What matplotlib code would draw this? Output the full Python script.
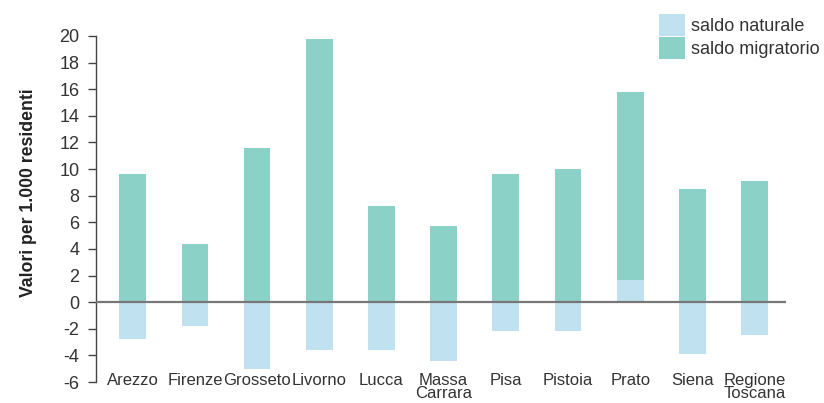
import matplotlib
matplotlib.use("Agg")
import matplotlib.pyplot as plt
import numpy as np

# -----------------------------
# Dati
# -----------------------------
provinces = ["Arezzo", "Firenze", "Grosseto", "Livorno", "Lucca", "Massa\nCarrara",
             "Pisa", "Pistoia", "Prato", "Siena", "Regione\nToscana"]
saldo_naturale = [-2.8, -1.8, -5.0, -3.6, -3.6, -4.4, -2.2, -2.2, 1.7, -3.9, -2.5]
saldo_migratorio = [9.6, 4.4, 11.6, 19.8, 7.2, 5.7, 9.6, 10.0, 14.1, 8.5, 9.1]
yticks = list(range(-6, 21, 2))

# -----------------------------
# Stile
# -----------------------------
plt.rcParams['font.family'] = ['Liberation Sans', 'DejaVu Sans']
col_nat = "#bfe1f0"
col_mig = "#8bd1c7"
txt_col = "#333333"

fig = plt.figure(figsize=(8.24, 4.03), dpi=100)
ax = fig.add_axes([0.1165, 0.052, 0.837, 0.8587])

x = np.arange(len(provinces))
nat = np.array(saldo_naturale)
mig = np.array(saldo_migratorio)
# la parte migratoria parte da 0, oppure sopra il saldo naturale se positivo
base_mig = np.where(nat > 0, nat, 0)

w = 0.43
ax.bar(x, nat, width=w, color=col_nat, label="saldo naturale", zorder=2)
ax.bar(x, mig, width=w, bottom=base_mig, color=col_mig, label="saldo migratorio", zorder=2)

ax.axhline(0, color="#777777", linewidth=1.6, zorder=3)

ax.set_xlim(-0.59, 10.5)
ax.set_ylim(-6, 20)
ax.set_yticks(yticks)
ax.set_yticklabels([str(t) for t in yticks], fontsize=13, color=txt_col)
ax.set_xticks(x)
ax.set_xticklabels(provinces, fontsize=12, color=txt_col, linespacing=0.82, va="top")
ax.tick_params(axis="x", length=0, pad=-6.5)
ax.tick_params(axis="y", length=6, width=1, color="#444444", pad=6, direction="out")

for s in ["top", "right", "bottom"]:
    ax.spines[s].set_visible(False)
ax.spines["left"].set_color("#444444")
ax.spines["left"].set_linewidth(1)

ax.set_ylabel("Valori per 1.000 residenti", fontsize=12.7, fontweight="bold",
              color="#222222")
ax.yaxis.set_label_coords(-0.086, 0.546)

leg = ax.legend(loc="upper left", bbox_to_anchor=(0.80, 0.965),
                bbox_transform=fig.transFigure, frameon=False, fontsize=13,
                handlelength=1.45, handleheight=1.45, handletextpad=0.3,
                labelspacing=0.1, borderaxespad=0, borderpad=0)
for t in leg.get_texts():
    t.set_color(txt_col)

fig.savefig("out.png", dpi=100)
